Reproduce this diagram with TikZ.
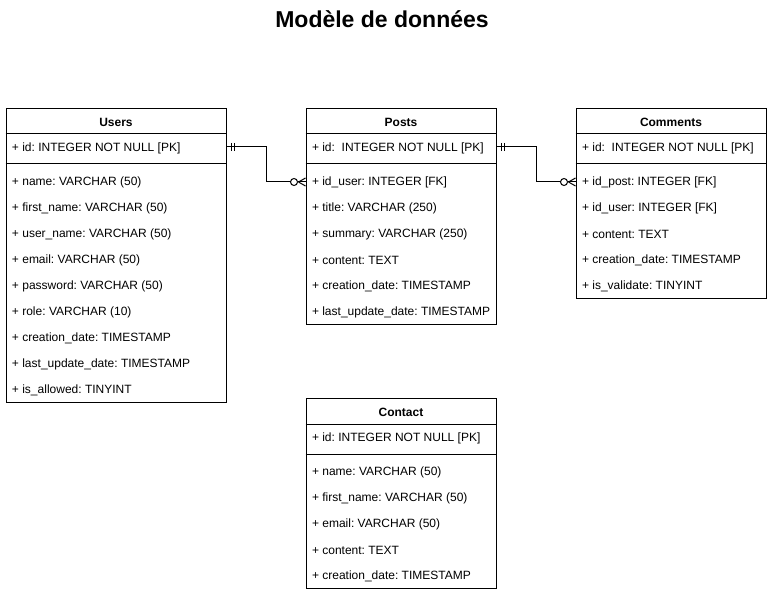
\documentclass[tikz,border=0pt]{standalone}
\usepackage{fontspec}
\setmainfont{Liberation Sans}
\frenchspacing
\begin{document}
\frenchspacing
\begin{tikzpicture}[x=1pt,y=-1pt,line width=1pt,
  every node/.style={font=\fontsize{12}{14}\selectfont\frenchspacing, inner sep=0pt},
  tbl/.style={draw, anchor=north west, minimum width=#1},
  hdr/.style={font=\fontsize{12}{14}\selectfont\bfseries},
  attr/.style={anchor=west},
  conn/.style={line width=1pt}]
\useasboundingbox (0,0) rectangle (771,596);

\node[font=\fontsize{23}{27}\selectfont\bfseries, anchor=base] (title) at (382,28) {Modèle de données};

% Users
\node[tbl=220pt, minimum height=294pt] (users) at (5.5,108) {};
\draw ([yshift=-26pt]users.north west) -- ([yshift=-26pt]users.north east);
\draw ([yshift=-56pt]users.north west) -- ([yshift=-56pt]users.north east);
\node[hdr] (users-h) at ([yshift=-14pt]users.north) {Users};
\node[attr] (u-id) at ([xshift=6pt,yshift=-40.5pt]users.north west) {+ id: INTEGER NOT NULL [PK]};
\foreach \t [count=\i] in {+ name: VARCHAR (50), + first\_name: VARCHAR (50), + user\_name: VARCHAR (50), + email: VARCHAR (50), + password: VARCHAR (50), + role: VARCHAR (10), + creation\_date: TIMESTAMP, + last\_update\_date: TIMESTAMP, + is\_allowed: TINYINT}
  \node[attr] (u-\i) at ([xshift=6pt,yshift={-(48.5+26*\i)*1pt}]users.north west) {\t};

% Posts
\node[tbl=190pt, minimum height=216pt] (posts) at (305.5,108) {};
\draw ([yshift=-26pt]posts.north west) -- ([yshift=-26pt]posts.north east);
\draw ([yshift=-56pt]posts.north west) -- ([yshift=-56pt]posts.north east);
\node[hdr] (posts-h) at ([yshift=-14pt]posts.north) {Posts};
\node[attr] (p-id) at ([xshift=6pt,yshift=-40.5pt]posts.north west) {+ id:\ \ INTEGER NOT NULL [PK]};
\foreach \t [count=\i] in {+ id\_user: INTEGER [FK], + title: VARCHAR (250), + summary: VARCHAR (250), + content: TEXT, + creation\_date: TIMESTAMP, + last\_update\_date: TIMESTAMP}
  \node[attr] (p-\i) at ([xshift=6pt,yshift={-(48.5+26*\i)*1pt}]posts.north west) {\t};

% Comments
\node[tbl=190pt, minimum height=190pt] (comments) at (575.5,108) {};
\draw ([yshift=-26pt]comments.north west) -- ([yshift=-26pt]comments.north east);
\draw ([yshift=-56pt]comments.north west) -- ([yshift=-56pt]comments.north east);
\node[hdr] (comments-h) at ([yshift=-14pt]comments.north) {Comments};
\node[attr] (c-id) at ([xshift=6pt,yshift=-40.5pt]comments.north west) {+ id:\ \ INTEGER NOT NULL [PK]};
\foreach \t [count=\i] in {+ id\_post: INTEGER [FK], + id\_user: INTEGER [FK], + content: TEXT, + creation\_date: TIMESTAMP, + is\_validate: TINYINT}
  \node[attr] (c-\i) at ([xshift=6pt,yshift={-(48.5+26*\i)*1pt}]comments.north west) {\t};

% Contact
\node[tbl=190pt, minimum height=190pt] (contact) at (305.5,398) {};
\draw ([yshift=-26pt]contact.north west) -- ([yshift=-26pt]contact.north east);
\draw ([yshift=-56pt]contact.north west) -- ([yshift=-56pt]contact.north east);
\node[hdr] (contact-h) at ([yshift=-14pt]contact.north) {Contact};
\node[attr] (k-id) at ([xshift=6pt,yshift=-40.5pt]contact.north west) {+ id: INTEGER NOT NULL [PK]};
\foreach \t [count=\i] in {+ name: VARCHAR (50), + first\_name: VARCHAR (50), + email: VARCHAR (50), + content: TEXT, + creation\_date: TIMESTAMP}
  \node[attr] (k-\i) at ([xshift=6pt,yshift={-(48.5+26*\i)*1pt}]contact.north west) {\t};

% Connectors
\coordinate (s1) at ([yshift=-39pt]users.north east);
\coordinate (e1) at ([yshift=-74pt]posts.north west);
\coordinate (s2) at ([yshift=-39pt]posts.north east);
\coordinate (e2) at ([yshift=-74pt]comments.north west);

\foreach \s/\e in {s1/e1, s2/e2} {
  \draw[conn] (\s) -- ++(40,0) |- ([xshift=-15pt]\e);
  % one (mandatory) marks
  \draw[conn] ([xshift=5pt,yshift=4pt]\s) -- ([xshift=5pt,yshift=-4pt]\s);
  \draw[conn] ([xshift=8pt,yshift=4pt]\s) -- ([xshift=8pt,yshift=-4pt]\s);
  % zero-or-many marks
  \draw[conn] ([xshift=-11.5pt]\e) circle[radius=3.5pt];
  \draw[conn] ([xshift=-8pt]\e) -- (\e);
  \draw[conn] ([xshift=-7pt]\e) -- ([yshift=4pt]\e);
  \draw[conn] ([xshift=-7pt]\e) -- ([yshift=-4pt]\e);
}
\end{tikzpicture}
\end{document}
